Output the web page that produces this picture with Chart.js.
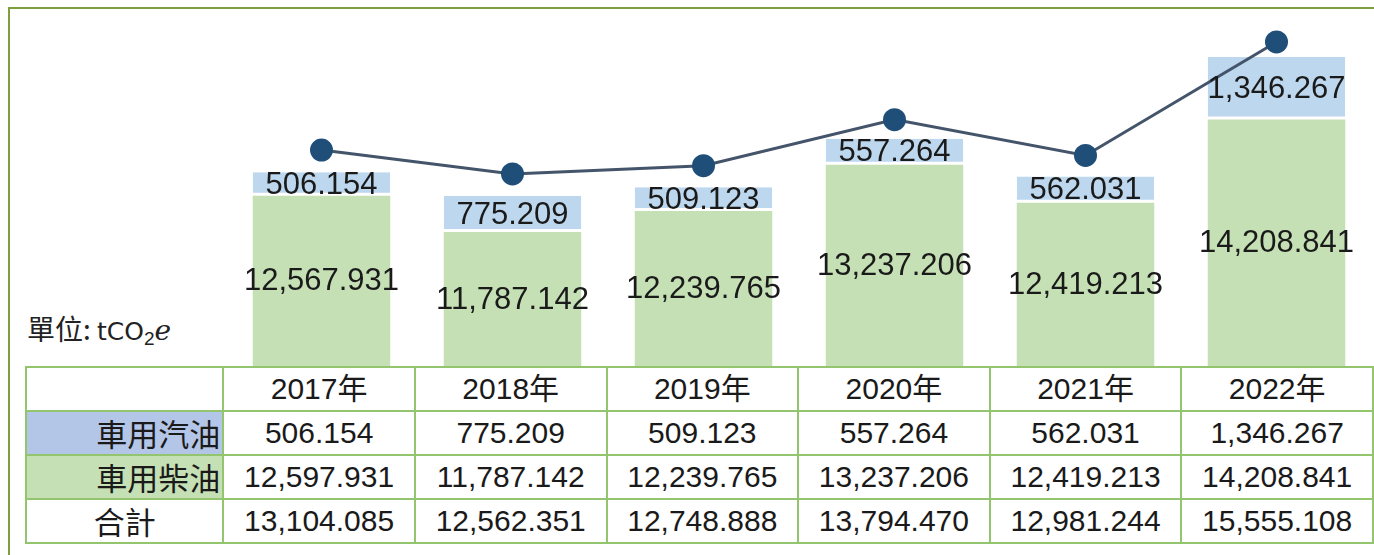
<!DOCTYPE html>
<html>
<head>
<meta charset="utf-8">
<script src="https://cdn.jsdelivr.net/npm/chart.js@4"></script>
<style>
  body { margin: 0; background: #fff; width: 1374px; height: 555px; overflow: hidden; position: relative; font-family: "Liberation Sans", Arial, "Noto Sans CJK TC", sans-serif; }
  #frame { position: absolute; left: 8px; top: 7px; width: 1400px; height: 600px; border: 2px solid #7f9f3d; box-sizing: border-box; }
  #chart-box { position: absolute; left: 226px; top: 0; width: 1146px; height: 366px; }
  #unit { position: absolute; left: 27px; top: 308px; font-size: 28px; color: #222; font-family: "Noto Sans CJK TC", "Liberation Sans", sans-serif; }
  #unit sub { font-size: 19px; vertical-align: -5px; font-family: "Liberation Sans", sans-serif; }
  #unit .u { font-family: "DejaVu Sans", "Liberation Sans", sans-serif; font-size: 25px; }
  #unit i { font-family: "DejaVu Serif", serif; }
  table { position: absolute; left: 25px; top: 366px; border-collapse: collapse; font-size: 30px; color: #1a1a1a; }
  td { border: 2px solid #93c56f; height: 42px; padding: 0; text-align: center; width: 191px; line-height: 42px; }
  td.head { width: 199px; font-family: "Noto Sans CJK TC", sans-serif; font-size: 31px; }
  td.gas { background: #b4c6e7; text-align: right; padding-right: 2px; }
  td.diesel { background: #c5e0b4; text-align: right; padding-right: 2px; }
</style>
</head>
<body>
<div id="frame"></div>
<div id="unit">單位: <span class="u">tCO</span><sub>2</sub><i>e</i></div>
<div id="chart-box"><canvas id="c"></canvas></div>
<table id="tbl"></table>
<script>
const years = ['2017年', '2018年', '2019年', '2020年', '2021年', '2022年'];
const seriesNames = ['車用汽油', '車用柴油', '合計'];
const gasoline = [506.154, 775.209, 509.123, 557.264, 562.031, 1346.267];
// bar labels as printed on the chart (2017 differs from the table)
const dieselBar = [12567.931, 11787.142, 12239.765, 13237.206, 12419.213, 14208.841];
const dieselTable = [12597.931, 11787.142, 12239.765, 13237.206, 12419.213, 14208.841];
const totals = [13104.085, 12562.351, 12748.888, 13794.470, 12981.244, 15555.108];

const fmt = v => v.toLocaleString('en-US', { minimumFractionDigits: 3, maximumFractionDigits: 3 });

// data table under the chart
const tbl = document.getElementById('tbl');
let html = '<tr><td class="head"></td>' + years.map(y => `<td>${y}</td>`).join('') + '</tr>';
html += `<tr><td class="head gas">${seriesNames[0]}</td>` + gasoline.map(v => `<td>${fmt(v)}</td>`).join('') + '</tr>';
html += `<tr><td class="head diesel">${seriesNames[1]}</td>` + dieselTable.map(v => `<td>${fmt(v)}</td>`).join('') + '</tr>';
html += `<tr><td class="head">${seriesNames[2]}</td>` + totals.map(v => `<td>${fmt(v)}</td>`).join('') + '</tr>';
tbl.innerHTML = html;

const valueLabels = {
    id: 'valueLabels',
    afterDatasetsDraw(chart) {
        const ctx = chart.ctx;
        const bottom = chart.chartArea.bottom;
        ctx.save();
        ctx.font = '31px "Liberation Sans", Arial, sans-serif';
        ctx.fillStyle = '#1a1a1a';
        ctx.textAlign = 'center';
        ctx.textBaseline = 'middle';
        [0, 1].forEach(di => {
            const meta = chart.getDatasetMeta(di);
            meta.data.forEach((bar, i) => {
                const p = bar.getProps(['x', 'y', 'base'], true);
                const base = Math.min(p.base, bottom);
                ctx.fillText(fmt(chart.data.datasets[di].data[i]), p.x, (p.y + base) / 2 + 1);
            });
        });
        ctx.restore();
    }
};

new Chart(document.getElementById('c'), {
    type: 'bar',
    data: {
        labels: years,
        datasets: [
            {
                label: seriesNames[1],
                data: dieselBar,
                backgroundColor: '#c5e0b4',
                borderWidth: 0,
                order: 2,
                barPercentage: 0.72,
                categoryPercentage: 1
            },
            {
                label: seriesNames[0],
                data: gasoline,
                backgroundColor: '#bdd7ee',
                borderColor: '#ffffff',
                borderWidth: { top: 0, left: 0, right: 0, bottom: 3 },
                borderSkipped: false,
                order: 2,
                barPercentage: 0.72,
                categoryPercentage: 1
            },
            {
                type: 'line',
                label: seriesNames[2],
                data: totals,
                yAxisID: 'y1',
                borderColor: '#44546a',
                borderWidth: 3,
                pointRadius: 10,
                pointBackgroundColor: '#1f4e79',
                pointBorderColor: '#1f4e79',
                tension: 0,
                order: 1
            }
        ]
    },
    options: {
        responsive: true,
        maintainAspectRatio: false,
        animation: false,
        layout: { padding: 0, autoPadding: false },
        plugins: { legend: { display: false }, tooltip: { enabled: false } },
        scales: {
            x: { stacked: true, display: false },
            y: { stacked: true, display: false, min: 8902, max: 16783 },
            y1: { display: false, min: 8208, max: 16507 }
        }
    },
    plugins: [valueLabels]
});
</script>
</body>
</html>
